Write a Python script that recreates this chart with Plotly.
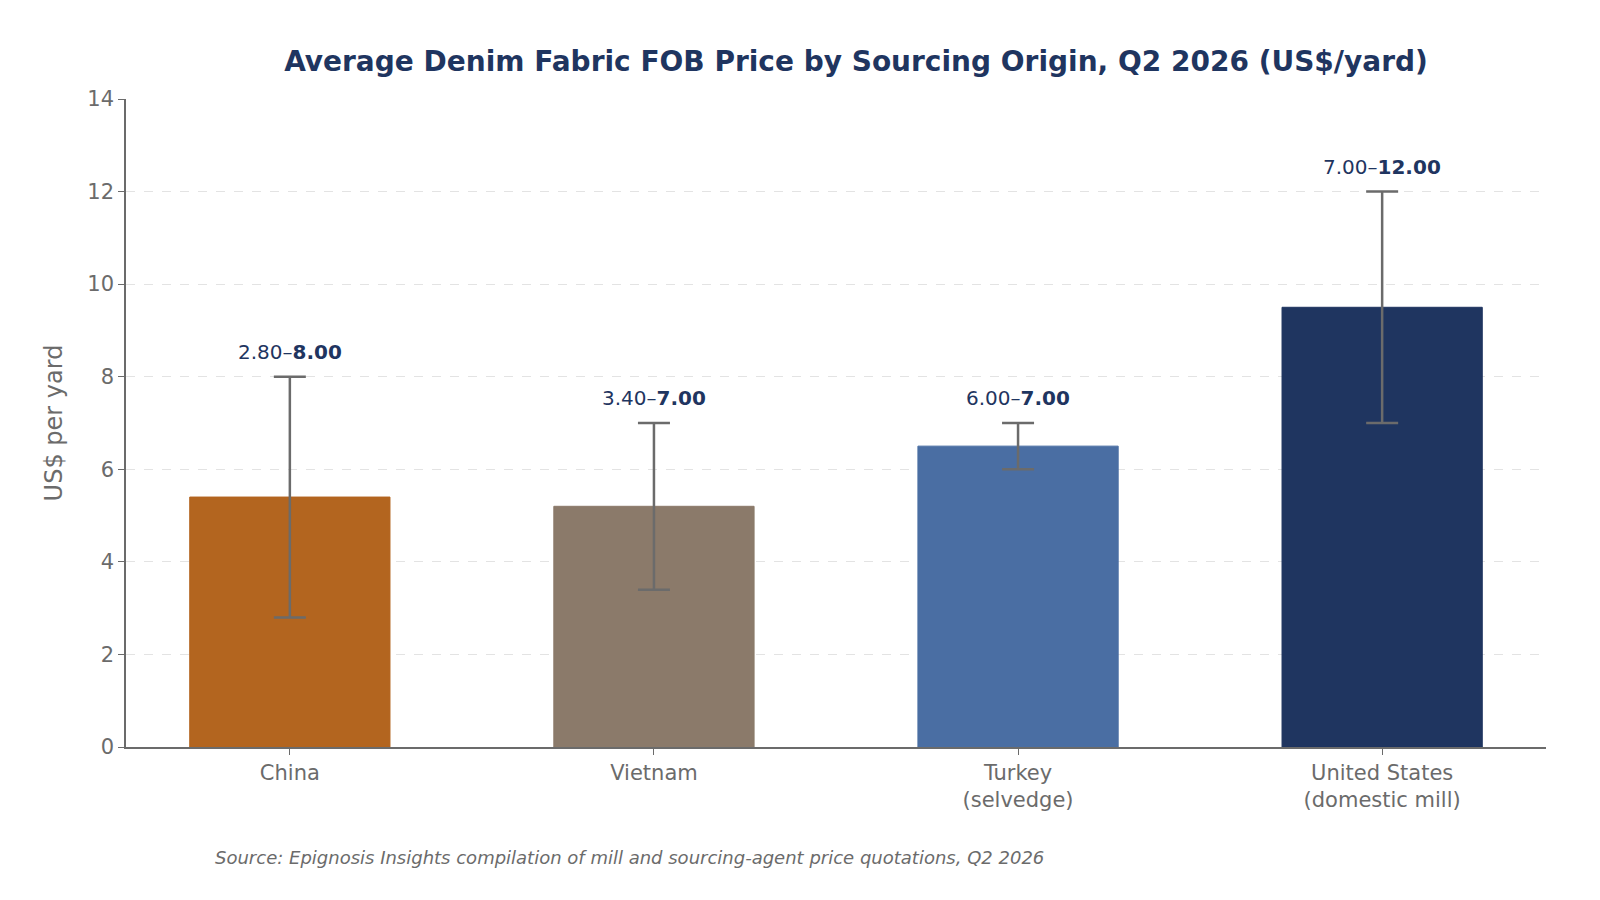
import plotly.graph_objects as go

origins = ["China", "Vietnam", "Turkey<br>(selvedge)", "United States<br>(domestic mill)"]
avg_price = [5.4, 5.2, 6.5, 9.5]
low_price = [2.8, 3.4, 6.0, 7.0]
high_price = [8.0, 7.0, 7.0, 12.0]
colors = ["#b3651f", "#8b7a6a", "#4a6ea3", "#1f3560"]

fig = go.Figure(go.Bar(
    x=list(range(len(origins))), y=avg_price, width=0.55,
    marker=dict(color=colors, line=dict(color=colors, width=1)),
    error_y=dict(type="data", symmetric=False,
                 array=[h - a for h, a in zip(high_price, avg_price)],
                 arrayminus=[a - l for a, l in zip(avg_price, low_price)],
                 color="#6b6b6b", thickness=2.5, width=16),
))

for i, (lo, hi) in enumerate(zip(low_price, high_price)):
    fig.add_annotation(x=i, y=hi, yshift=25, showarrow=False,
                       text=f"{lo:.2f}–<b>{hi:.2f}</b>",
                       font=dict(size=20, color="#1f3560"))

fig.add_annotation(xref="paper", yref="paper", x=0.061, y=-0.19, xanchor="left",
                   showarrow=False,
                   text="<i>Source: Epignosis Insights compilation of mill and sourcing-agent price quotations, Q2 2026</i>",
                   font=dict(size=18, color="#6b6b6b"))

fig.update_layout(
    width=1600, height=900,
    font=dict(family="DejaVu Sans", color="#6b6b6b"),
    title=dict(text="<b>Average Denim Fabric FOB Price by Sourcing Origin, Q2 2026 (US$/yard)</b>",
               x=0.53, y=0.952, xanchor="center", font=dict(size=28, color="#1f3560")),
    margin=dict(l=118, r=62, t=91, b=161),
    plot_bgcolor="white", paper_bgcolor="white", showlegend=False,
    xaxis=dict(tickvals=list(range(len(origins))), ticktext=origins, range=[-0.45, 3.45],
               showline=True, linecolor="#6b6b6b", linewidth=1.5, ticks="outside",
               tickcolor="#6b6b6b", ticklen=6, tickfont=dict(size=21), showgrid=False),
    yaxis=dict(range=[0, 14], dtick=2, showline=True, linecolor="#6b6b6b", linewidth=1.5,
               ticks="outside", tickcolor="#6b6b6b", ticklen=6, tickfont=dict(size=21),
               gridcolor="rgba(200,200,200,0.5)", griddash="dash", zeroline=False,
               layer="above traces",
               title=dict(text="US$ per yard", font=dict(size=24), standoff=18)),
)

fig.write_html("out.html")
